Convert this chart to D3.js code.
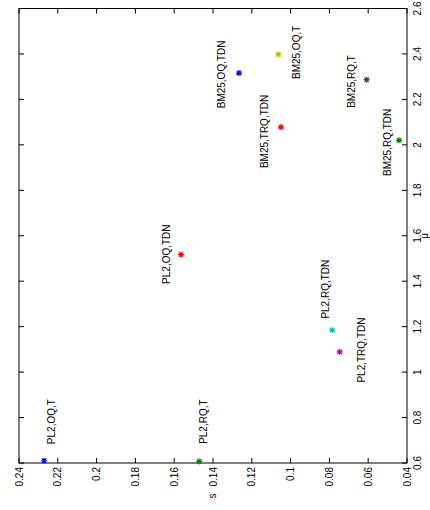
<!DOCTYPE html>
<html>
<head>
<meta charset="utf-8">
<script src="https://cdn.jsdelivr.net/npm/d3@7"></script>
<style>
  html, body { margin: 0; padding: 0; background: #fff; }
  svg { display: block; }
  text { font-family: "Liberation Sans", Arial, sans-serif; font-size: 10px; fill: #000; }
</style>
</head>
<body>
<div id="chart"></div>
<script>
// runs, s value, mu value, and where each run's label was placed (data units)
const runs = ['BM25,OQ,TDN', 'BM25,OQ,T', 'BM25,TRQ,TDN', 'BM25,RQ,T', 'BM25,RQ,TDN',
              'PL2,OQ,TDN', 'PL2,OQ,T', 'PL2,RQ,T', 'PL2,RQ,TDN', 'PL2,TRQ,TDN'];
const sValues = [0.1266, 0.1063, 0.1050, 0.0608, 0.0441, 0.1565, 0.2271, 0.1471, 0.0785, 0.0747];
const muValues = [2.316, 2.398, 2.078, 2.287, 2.020, 1.517, 0.610, 0.607, 1.185, 1.089];
const labelS = [0.1354, 0.0972, 0.1132, 0.0684, 0.0503, 0.1642, 0.2235, 0.1449, 0.0818, 0.0637];
const labelMu = [2.310, 2.407, 2.059, 2.279, 2.011, 1.519, 0.782, 0.782, 1.365, 1.097];
const sTicks = [0.24, 0.22, 0.2, 0.18, 0.16, 0.14, 0.12, 0.1, 0.08, 0.06, 0.04];
const muTicks = [0.6, 0.8, 1, 1.2, 1.4, 1.6, 1.8, 2, 2.2, 2.4, 2.6];

const markerColors = ['#0000ff', '#bfbf00', '#ff0000', '#404040', '#008000',
                      '#ff0000', '#0000ff', '#008000', '#00bfbf', '#bf00bf'];

const width = 430;
const height = 510;
const box = { left: 19, right: 407, top: 8.5, bottom: 463 };
const tickLen = 5;

const svg = d3.select('#chart')
    .append('svg')
    .attr('width', width)
    .attr('height', height);

// s runs right-to-left along the bottom, mu bottom-to-top on the right (figure is rotated)
const xScale = d3.scaleLinear()
    .domain([0.24, 0.04])
    .range([box.left, box.right]);

const yScale = d3.scaleLinear()
    .domain([0.6, 2.6])
    .range([box.bottom, box.top]);

const fmt = d => String(+d.toFixed(2));

// Frame
svg.append('rect')
    .attr('x', box.left)
    .attr('y', box.top)
    .attr('width', box.right - box.left)
    .attr('height', box.bottom - box.top)
    .attr('fill', 'none')
    .attr('stroke', '#000')
    .attr('stroke-width', 1);

// Ticks on all four sides, pointing inward
const ticks = svg.append('g').attr('stroke', '#000').attr('stroke-width', 1);
sTicks.forEach(t => {
    const x = xScale(t);
    ticks.append('line').attr('x1', x).attr('x2', x).attr('y1', box.bottom).attr('y2', box.bottom - tickLen);
    ticks.append('line').attr('x1', x).attr('x2', x).attr('y1', box.top).attr('y2', box.top + tickLen);
});
muTicks.forEach(t => {
    const y = yScale(t);
    ticks.append('line').attr('x1', box.right).attr('x2', box.right - tickLen).attr('y1', y).attr('y2', y);
    ticks.append('line').attr('x1', box.left).attr('x2', box.left + tickLen).attr('y1', y).attr('y2', y);
});

// Tick labels (rotated)
svg.append('g')
    .selectAll('text')
    .data(sTicks)
    .enter()
    .append('text')
    .attr('transform', d => `translate(${xScale(d)},${box.bottom + 4}) rotate(-90)`)
    .attr('text-anchor', 'end')
    .attr('dy', '0.35em')
    .text(fmt);

svg.append('g')
    .selectAll('text')
    .data(muTicks)
    .enter()
    .append('text')
    .attr('transform', d => `translate(${box.right + 10},${yScale(d)}) rotate(-90)`)
    .attr('text-anchor', 'middle')
    .attr('dy', '0.35em')
    .text(fmt);

// Axis titles
svg.append('text')
    .attr('transform', `translate(${(box.left + box.right) / 2 - 1},${box.bottom + 33}) rotate(-90)`)
    .attr('text-anchor', 'middle')
    .attr('dy', '0.35em')
    .text('s');

svg.append('text')
    .attr('transform', `translate(${box.right + 17},${(box.top + box.bottom) / 2}) rotate(-90)`)
    .attr('text-anchor', 'middle')
    .attr('dy', '0.35em')
    .text('\u03bc');

// Asterisk markers
const star = 'M-3,0H3M0,-3V3M-2.2,-2.2L2.2,2.2M-2.2,2.2L2.2,-2.2';
svg.append('g')
    .selectAll('path')
    .data(runs)
    .enter()
    .append('path')
    .attr('d', star)
    .attr('transform', (d, i) => `translate(${xScale(sValues[i])},${yScale(muValues[i])})`)
    .attr('fill', 'none')
    .attr('stroke', (d, i) => markerColors[i])
    .attr('stroke-width', 1.2);

// Point labels
svg.append('g')
    .selectAll('text')
    .data(runs)
    .enter()
    .append('text')
    .attr('transform', (d, i) => `translate(${xScale(labelS[i])},${yScale(labelMu[i])}) rotate(-90)`)
    .attr('text-anchor', 'middle')
    .attr('dy', '0.35em')
    .text(d => d);
</script>
</body>
</html>
